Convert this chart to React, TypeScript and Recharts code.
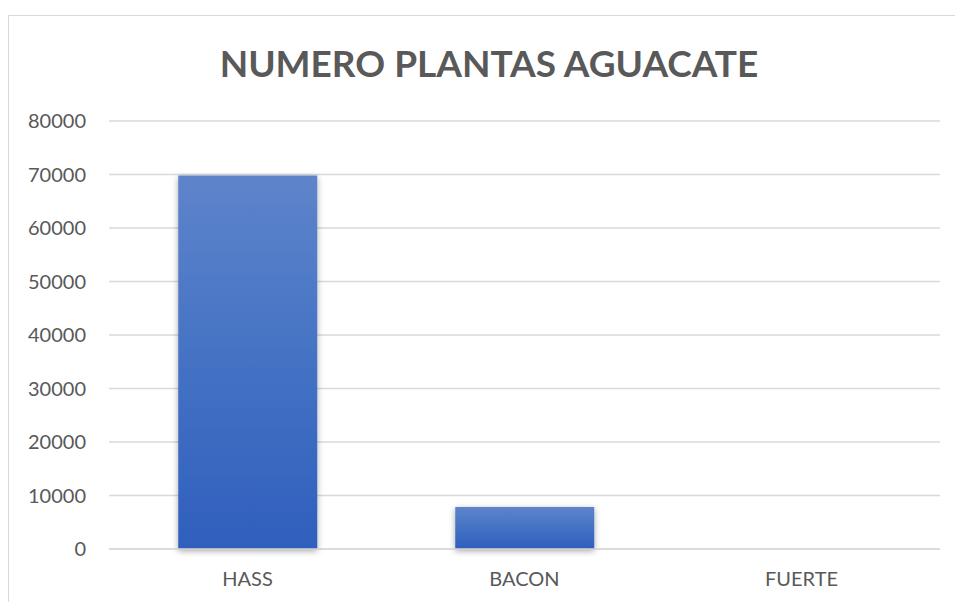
import { BarChart, Bar, XAxis, YAxis, CartesianGrid } from "recharts";

// ─── Data ─────────────────────────────────────────
const variedades = ["HASS", "BACON", "FUERTE"];
const plantas = [69800, 7850, 0];
const yTicks = [0, 10000, 20000, 30000, 40000, 50000, 60000, 70000, 80000];

const data = variedades.map((v, i) => ({ name: v, plantas: plantas[i] }));

const FONT = "Lato, 'Liberation Sans', sans-serif";

export default function App() {
  return (
    <div style={{ position: "relative", width: 955, height: 602, overflow: "hidden", background: "#fff" }}>
      <style>{`html,body{margin:0;padding:0;overflow:hidden}`}</style>
      {/* chart frame runs off the right and bottom edge like the original screenshot */}
      <div
        style={{
          position: "absolute",
          left: 8,
          top: 15,
          width: 980,
          height: 620,
          border: "1.5px solid #d9d9d9",
          boxSizing: "border-box",
        }}
      />
      <div
        style={{
          position: "absolute",
          left: 0,
          top: 40,
          width: 978,
          textAlign: "center",
          fontFamily: FONT,
          fontWeight: 700,
          fontSize: 37,
          color: "#595959",
        }}
      >
        NUMERO PLANTAS AGUACATE
      </div>
      <div style={{ position: "absolute", left: 0, top: 0 }}>
        <BarChart
          width={955}
          height={602}
          data={data}
          margin={{ top: 121, right: 15, left: 0, bottom: 0 }}
          barCategoryGap="25%"
        >
          <defs>
            <linearGradient id="barGrad" x1="0" y1="0" x2="0" y2="1">
              <stop offset="0%" stopColor="#5e84cb" />
              <stop offset="50%" stopColor="#4472c4" />
              <stop offset="100%" stopColor="#2f5fbd" />
            </linearGradient>
            <filter id="barShadow" x="-20%" y="-20%" width="140%" height="140%">
              <feDropShadow dx="0" dy="2" stdDeviation="3" floodColor="#000" floodOpacity="0.35" />
            </filter>
          </defs>
          <CartesianGrid vertical={false} stroke="#d9d9d9" strokeWidth={1.5} />
          <XAxis
            dataKey="name"
            height={53}
            axisLine={{ stroke: "#d9d9d9", strokeWidth: 1.5 }}
            tickLine={false}
            tickMargin={17}
            tick={{ fontSize: 20, fill: "#595959", fontFamily: FONT }}
          />
          <YAxis
            width={109}
            domain={[0, 80000]}
            ticks={yTicks}
            axisLine={false}
            tickLine={false}
            tickMargin={17}
            tick={{ fontSize: 20, fill: "#595959", fontFamily: FONT }}
          />
          <Bar
            dataKey="plantas"
            fill="url(#barGrad)"
            filter="url(#barShadow)"
            isAnimationActive={false}
          />
        </BarChart>
      </div>
    </div>
  );
}
